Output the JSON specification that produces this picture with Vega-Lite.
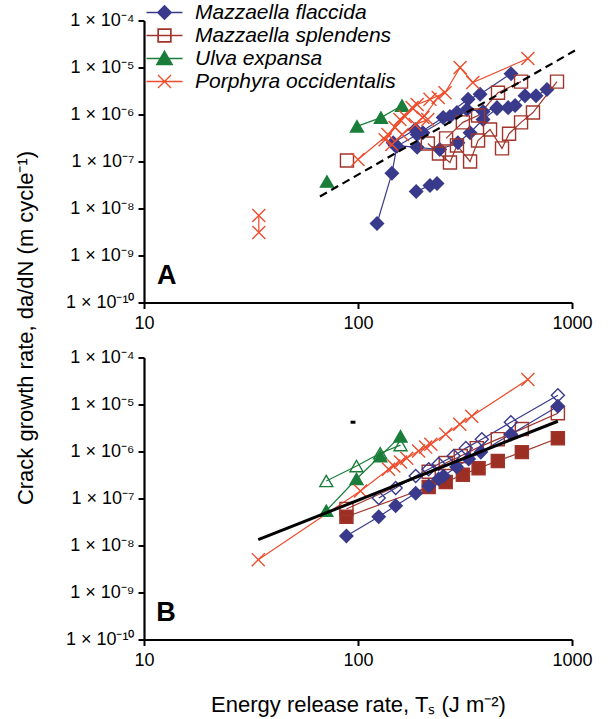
{
  "$schema": "https://vega.github.io/schema/vega-lite/v6.json",
  "background": "white",
  "padding": {"left": 14, "top": 1.5, "right": 5, "bottom": 5},
  "bounds": "flush",
  "spacing": 55,
  "config": {
    "font": "Liberation Sans",
    "view": {"stroke": null},
    "axis": {
      "grid": false,
      "labelFlush": false,
      "domainColor": "black",
      "domainWidth": 2.2,
      "tickColor": "black",
      "tickWidth": 2,
      "tickSize": 6,
      "labelFont": "Liberation Sans",
      "labelFontSize": 18,
      "labelColor": "black",
      "titleFont": "Liberation Sans",
      "titleFontSize": 22,
      "titleFontWeight": "normal",
      "titleColor": "black"
    }
  },
  "datasets": {
    "pts": [
      {"panel": "A", "species": "Mazzaella flaccida", "series": "A-F1", "x": 122.7, "y": 4.8e-9, "open": false},
      {"panel": "A", "species": "Mazzaella flaccida", "series": "A-F1", "x": 144, "y": 5.6e-8, "open": false},
      {"panel": "A", "species": "Mazzaella flaccida", "series": "A-F1", "x": 152, "y": 2.1e-7, "open": false},
      {"panel": "A", "species": "Mazzaella flaccida", "series": "A-F1", "x": 189, "y": 3.75e-7, "open": false},
      {"panel": "A", "species": "Mazzaella flaccida", "series": "A-F1", "x": 250, "y": 8.6e-7, "open": false},
      {"panel": "A", "species": "Mazzaella flaccida", "series": "A-F1", "x": 327, "y": 2.1e-6, "open": false},
      {"panel": "A", "species": "Mazzaella flaccida", "series": "A-F1", "x": 372, "y": 2.7e-6, "open": false},
      {"panel": "A", "species": "Mazzaella flaccida", "series": "A-F1", "x": 519, "y": 7.4e-6, "open": false},
      {"panel": "A", "species": "Mazzaella flaccida", "series": "A-F2", "x": 187, "y": 2.3e-8, "open": false},
      {"panel": "A", "species": "Mazzaella flaccida", "series": "A-F2", "x": 217, "y": 3.1e-8, "open": false},
      {"panel": "A", "species": "Mazzaella flaccida", "series": "A-F2", "x": 234, "y": 3.4e-8, "open": false},
      {"panel": "A", "species": "Mazzaella flaccida", "series": "A-F3", "x": 149, "y": 2.2e-7, "open": false},
      {"panel": "A", "species": "Mazzaella flaccida", "series": "A-F3", "x": 189, "y": 2.0e-7, "open": false},
      {"panel": "A", "species": "Mazzaella flaccida", "series": "A-F3", "x": 241, "y": 1.8e-7, "open": false},
      {"panel": "A", "species": "Mazzaella flaccida", "series": "A-F3", "x": 293, "y": 2.5e-7, "open": false},
      {"panel": "A", "species": "Mazzaella flaccida", "series": "A-F3", "x": 334, "y": 4.1e-7, "open": false},
      {"panel": "A", "species": "Mazzaella flaccida", "series": "A-F3", "x": 384, "y": 7.8e-7, "open": false},
      {"panel": "A", "species": "Mazzaella flaccida", "series": "A-F3", "x": 446, "y": 1.34e-6, "open": false},
      {"panel": "A", "species": "Mazzaella flaccida", "series": "A-F3", "x": 503, "y": 1.4e-6, "open": false},
      {"panel": "A", "species": "Mazzaella flaccida", "series": "A-F3", "x": 542, "y": 1.55e-6, "open": false},
      {"panel": "A", "species": "Mazzaella flaccida", "series": "A-F3", "x": 603, "y": 2.5e-6, "open": false},
      {"panel": "A", "species": "Mazzaella flaccida", "series": "A-F3", "x": 679, "y": 2.5e-6, "open": false},
      {"panel": "A", "species": "Mazzaella flaccida", "series": "A-F3", "x": 764, "y": 3.4e-6, "open": false},
      {"panel": "A", "species": "Mazzaella flaccida", "series": "A-F4", "x": 146, "y": 2.5e-7, "open": false},
      {"panel": "A", "species": "Mazzaella flaccida", "series": "A-F4", "x": 185, "y": 4.8e-7, "open": false},
      {"panel": "A", "species": "Mazzaella flaccida", "series": "A-F4", "x": 201, "y": 4.1e-7, "open": false},
      {"panel": "A", "species": "Mazzaella flaccida", "series": "A-F4", "x": 269, "y": 9.1e-7, "open": false},
      {"panel": "A", "species": "Mazzaella flaccida", "series": "A-F4", "x": 290, "y": 1.1e-6, "open": false},
      {"panel": "A", "species": "Mazzaella flaccida", "series": "A-F4", "x": 323, "y": 1.28e-6, "open": false},
      {"panel": "A", "species": "Mazzaella flaccida", "series": "A-F4", "x": 384, "y": 1.16e-6, "open": false},
      {"panel": "A", "species": "Mazzaella flaccida", "series": "A-F4", "x": 446, "y": 1.4e-6, "open": false},
      {"panel": "A", "species": "Mazzaella splendens", "series": "A-S1", "x": 88.8, "y": 1.05e-7, "open": true},
      {"panel": "A", "species": "Mazzaella splendens", "series": "A-S2", "x": 212, "y": 2.42e-7, "open": true},
      {"panel": "A", "species": "Mazzaella splendens", "series": "A-S2", "x": 239, "y": 1.48e-7, "open": true},
      {"panel": "A", "species": "Mazzaella splendens", "series": "A-S2", "x": 269, "y": 9.5e-8, "open": true},
      {"panel": "A", "species": "Mazzaella splendens", "series": "A-S2", "x": 290, "y": 2.2e-7, "open": true},
      {"panel": "A", "species": "Mazzaella splendens", "series": "A-S2", "x": 334, "y": 1.0e-7, "open": true},
      {"panel": "A", "species": "Mazzaella splendens", "series": "A-S2", "x": 364, "y": 2.8e-7, "open": true},
      {"panel": "A", "species": "Mazzaella splendens", "series": "A-S2", "x": 414, "y": 4.8e-7, "open": true},
      {"panel": "A", "species": "Mazzaella splendens", "series": "A-S2", "x": 471, "y": 1.9e-7, "open": true},
      {"panel": "A", "species": "Mazzaella splendens", "series": "A-S2", "x": 508, "y": 3.9e-7, "open": true},
      {"panel": "A", "species": "Mazzaella splendens", "series": "A-S2", "x": 578, "y": 6.8e-7, "open": true},
      {"panel": "A", "species": "Mazzaella splendens", "series": "A-S2", "x": 657, "y": 1.1e-6, "open": true},
      {"panel": "A", "species": "Mazzaella splendens", "series": "A-S2", "x": 851, "y": 5.0e-6, "open": true},
      {"panel": "A", "species": "Mazzaella splendens", "series": "A-S3", "x": 258, "y": 3.1e-7, "open": true},
      {"panel": "A", "species": "Mazzaella splendens", "series": "A-S3", "x": 309, "y": 6.8e-7, "open": true},
      {"panel": "A", "species": "Mazzaella splendens", "series": "A-S3", "x": 364, "y": 9.5e-7, "open": true},
      {"panel": "A", "species": "Mazzaella splendens", "series": "A-S3", "x": 451, "y": 2.9e-6, "open": true},
      {"panel": "A", "species": "Mazzaella splendens", "series": "A-S3", "x": 578, "y": 5.0e-6, "open": true},
      {"panel": "A", "species": "Ulva expansa", "series": "A-U0", "x": 71.6, "y": 3.75e-8, "open": false},
      {"panel": "A", "species": "Ulva expansa", "series": "A-U1", "x": 98.9, "y": 5.6e-7, "open": false},
      {"panel": "A", "species": "Ulva expansa", "series": "A-U1", "x": 128, "y": 8.6e-7, "open": false},
      {"panel": "A", "species": "Ulva expansa", "series": "A-U1", "x": 160.6, "y": 1.55e-6, "open": false},
      {"panel": "A", "species": "Porphyra occidentalis", "series": "A-P1", "x": 34.4, "y": 7.1e-9, "open": false},
      {"panel": "A", "species": "Porphyra occidentalis", "series": "A-P1", "x": 34.4, "y": 3.1e-9, "open": false},
      {"panel": "A", "species": "Porphyra occidentalis", "series": "A-P2", "x": 100, "y": 1.1e-7, "open": false},
      {"panel": "A", "species": "Porphyra occidentalis", "series": "A-P2", "x": 138, "y": 3.75e-7, "open": false},
      {"panel": "A", "species": "Porphyra occidentalis", "series": "A-P2", "x": 157, "y": 7.8e-7, "open": false},
      {"panel": "A", "species": "Porphyra occidentalis", "series": "A-P2", "x": 189, "y": 1.63e-6, "open": false},
      {"panel": "A", "species": "Porphyra occidentalis", "series": "A-P2", "x": 217, "y": 2.1e-6, "open": false},
      {"panel": "A", "species": "Porphyra occidentalis", "series": "A-P2", "x": 255, "y": 2.9e-6, "open": false},
      {"panel": "A", "species": "Porphyra occidentalis", "series": "A-P2", "x": 300, "y": 1.0e-5, "open": false},
      {"panel": "A", "species": "Porphyra occidentalis", "series": "A-P2", "x": 344, "y": 4.8e-6, "open": false},
      {"panel": "A", "species": "Porphyra occidentalis", "series": "A-P2", "x": 622, "y": 1.55e-5, "open": false},
      {"panel": "A", "species": "Porphyra occidentalis", "series": "A-P3", "x": 134, "y": 2.9e-7, "open": false},
      {"panel": "A", "species": "Porphyra occidentalis", "series": "A-P3", "x": 149, "y": 5.3e-7, "open": false},
      {"panel": "A", "species": "Porphyra occidentalis", "series": "A-P3", "x": 166, "y": 9.1e-7, "open": false},
      {"panel": "A", "species": "Porphyra occidentalis", "series": "A-P3", "x": 179, "y": 1.4e-6, "open": false},
      {"panel": "A", "species": "Porphyra occidentalis", "series": "A-P3", "x": 201, "y": 8.6e-7, "open": false},
      {"panel": "A", "species": "Porphyra occidentalis", "series": "A-P3", "x": 237, "y": 2.3e-6, "open": false},
      {"panel": "A", "species": "Porphyra occidentalis", "series": "A-P4", "x": 144, "y": 2.3e-7, "open": false},
      {"panel": "A", "species": "Porphyra occidentalis", "series": "A-P4", "x": 161, "y": 3.75e-7, "open": false},
      {"panel": "A", "species": "Porphyra occidentalis", "series": "A-P4", "x": 185, "y": 6.1e-7, "open": false},
      {"panel": "A", "species": "Porphyra occidentalis", "series": "A-P4", "x": 212, "y": 7.8e-7, "open": false},

      {"panel": "B", "species": "Ulva expansa", "series": "B-U-open", "x": 71.1, "y": 2.36e-7, "open": true},
      {"panel": "B", "species": "Ulva expansa", "series": "B-U-open", "x": 98.4, "y": 4.9e-7, "open": true},
      {"panel": "B", "species": "Ulva expansa", "series": "B-U-open", "x": 127, "y": 9.2e-7, "open": true},
      {"panel": "B", "species": "Ulva expansa", "series": "B-U-open", "x": 158, "y": 1.37e-6, "open": true},
      {"panel": "B", "species": "Ulva expansa", "series": "B-U-fill", "x": 71.1, "y": 5.5e-8, "open": false},
      {"panel": "B", "species": "Ulva expansa", "series": "B-U-fill", "x": 98.4, "y": 2.6e-7, "open": false},
      {"panel": "B", "species": "Ulva expansa", "series": "B-U-fill", "x": 127, "y": 8.0e-7, "open": false},
      {"panel": "B", "species": "Ulva expansa", "series": "B-U-fill", "x": 158, "y": 2.1e-6, "open": false},
      {"panel": "B", "species": "Mazzaella splendens", "series": "B-S-fill", "x": 88.3, "y": 4.1e-8, "open": false},
      {"panel": "B", "species": "Mazzaella splendens", "series": "B-S-fill", "x": 214, "y": 1.76e-7, "open": false},
      {"panel": "B", "species": "Mazzaella splendens", "series": "B-S-fill", "x": 257, "y": 2.25e-7, "open": false},
      {"panel": "B", "species": "Mazzaella splendens", "series": "B-S-fill", "x": 309, "y": 3.2e-7, "open": false},
      {"panel": "B", "species": "Mazzaella splendens", "series": "B-S-fill", "x": 366, "y": 4.4e-7, "open": false},
      {"panel": "B", "species": "Mazzaella splendens", "series": "B-S-fill", "x": 450, "y": 6.3e-7, "open": false},
      {"panel": "B", "species": "Mazzaella splendens", "series": "B-S-fill", "x": 583, "y": 9.7e-7, "open": false},
      {"panel": "B", "species": "Mazzaella splendens", "series": "B-S-fill", "x": 859, "y": 1.92e-6, "open": false},
      {"panel": "B", "species": "Mazzaella splendens", "series": "B-S-open", "x": 88.3, "y": 6.0e-8, "open": true},
      {"panel": "B", "species": "Mazzaella splendens", "series": "B-S-open", "x": 214, "y": 3.7e-7, "open": true},
      {"panel": "B", "species": "Mazzaella splendens", "series": "B-S-open", "x": 257, "y": 5.7e-7, "open": true},
      {"panel": "B", "species": "Mazzaella splendens", "series": "B-S-open", "x": 302, "y": 8.0e-7, "open": true},
      {"panel": "B", "species": "Mazzaella splendens", "series": "B-S-open", "x": 359, "y": 1.18e-6, "open": true},
      {"panel": "B", "species": "Mazzaella splendens", "series": "B-S-open", "x": 450, "y": 1.83e-6, "open": true},
      {"panel": "B", "species": "Mazzaella splendens", "series": "B-S-open", "x": 583, "y": 3.0e-6, "open": true},
      {"panel": "B", "species": "Mazzaella splendens", "series": "B-S-open", "x": 859, "y": 6.5e-6, "open": true},
      {"panel": "B", "species": "Mazzaella flaccida", "series": "B-F-fill", "x": 88.3, "y": 1.6e-8, "open": false},
      {"panel": "B", "species": "Mazzaella flaccida", "series": "B-F-fill", "x": 125, "y": 4.1e-8, "open": false},
      {"panel": "B", "species": "Mazzaella flaccida", "series": "B-F-fill", "x": 150, "y": 7.0e-8, "open": false},
      {"panel": "B", "species": "Mazzaella flaccida", "series": "B-F-fill", "x": 186, "y": 1.3e-7, "open": false},
      {"panel": "B", "species": "Mazzaella flaccida", "series": "B-F-fill", "x": 214, "y": 1.85e-7, "open": false},
      {"panel": "B", "species": "Mazzaella flaccida", "series": "B-F-fill", "x": 238, "y": 2.6e-7, "open": false},
      {"panel": "B", "species": "Mazzaella flaccida", "series": "B-F-fill", "x": 251, "y": 3.0e-7, "open": false},
      {"panel": "B", "species": "Mazzaella flaccida", "series": "B-F-fill", "x": 289, "y": 4.7e-7, "open": false},
      {"panel": "B", "species": "Mazzaella flaccida", "series": "B-F-fill", "x": 329, "y": 6.9e-7, "open": false},
      {"panel": "B", "species": "Mazzaella flaccida", "series": "B-F-fill", "x": 375, "y": 9.7e-7, "open": false},
      {"panel": "B", "species": "Mazzaella flaccida", "series": "B-F-fill", "x": 518, "y": 2.34e-6, "open": false},
      {"panel": "B", "species": "Mazzaella flaccida", "series": "B-F-fill", "x": 859, "y": 9.2e-6, "open": false},
      {"panel": "B", "species": "Mazzaella flaccida", "series": "B-F-open", "x": 125, "y": 1.03e-7, "open": true},
      {"panel": "B", "species": "Mazzaella flaccida", "series": "B-F-open", "x": 150, "y": 1.68e-7, "open": true},
      {"panel": "B", "species": "Mazzaella flaccida", "series": "B-F-open", "x": 186, "y": 3.0e-7, "open": true},
      {"panel": "B", "species": "Mazzaella flaccida", "series": "B-F-open", "x": 214, "y": 4.2e-7, "open": true},
      {"panel": "B", "species": "Mazzaella flaccida", "series": "B-F-open", "x": 238, "y": 5.4e-7, "open": true},
      {"panel": "B", "species": "Mazzaella flaccida", "series": "B-F-open", "x": 280, "y": 8.0e-7, "open": true},
      {"panel": "B", "species": "Mazzaella flaccida", "series": "B-F-open", "x": 319, "y": 1.18e-6, "open": true},
      {"panel": "B", "species": "Mazzaella flaccida", "series": "B-F-open", "x": 379, "y": 1.83e-6, "open": true},
      {"panel": "B", "species": "Mazzaella flaccida", "series": "B-F-open", "x": 518, "y": 4.2e-6, "open": true},
      {"panel": "B", "species": "Mazzaella flaccida", "series": "B-F-open", "x": 859, "y": 1.57e-5, "open": true},
      {"panel": "B", "species": "Porphyra occidentalis", "series": "B-P", "x": 34.2, "y": 5.0e-9, "open": false},
      {"panel": "B", "species": "Porphyra occidentalis", "series": "B-P", "x": 102.7, "y": 1.45e-7, "open": false},
      {"panel": "B", "species": "Porphyra occidentalis", "series": "B-P", "x": 139, "y": 4.2e-7, "open": false},
      {"panel": "B", "species": "Porphyra occidentalis", "series": "B-P", "x": 147, "y": 4.9e-7, "open": false},
      {"panel": "B", "species": "Porphyra occidentalis", "series": "B-P", "x": 158, "y": 6.0e-7, "open": false},
      {"panel": "B", "species": "Porphyra occidentalis", "series": "B-P", "x": 169, "y": 7.2e-7, "open": false},
      {"panel": "B", "species": "Porphyra occidentalis", "series": "B-P", "x": 192, "y": 1.02e-6, "open": false},
      {"panel": "B", "species": "Porphyra occidentalis", "series": "B-P", "x": 207, "y": 1.24e-6, "open": false},
      {"panel": "B", "species": "Porphyra occidentalis", "series": "B-P", "x": 219, "y": 1.43e-6, "open": false},
      {"panel": "B", "species": "Porphyra occidentalis", "series": "B-P", "x": 257, "y": 2.34e-6, "open": false},
      {"panel": "B", "species": "Porphyra occidentalis", "series": "B-P", "x": 299, "y": 3.8e-6, "open": false},
      {"panel": "B", "species": "Porphyra occidentalis", "series": "B-P", "x": 340, "y": 5.6e-6, "open": false},
      {"panel": "B", "species": "Porphyra occidentalis", "series": "B-P", "x": 622, "y": 3.4e-5, "open": false}
    ],
    "fits": [
      {"panel": "A", "series": "fitA", "x": 66.4, "y": 1.8e-8},
      {"panel": "A", "series": "fitA", "x": 1032, "y": 2.3e-5},
      {"panel": "B", "series": "fitB", "x": 34.2, "y": 1.33e-8},
      {"panel": "B", "series": "fitB", "x": 859, "y": 4.4e-6},
      {"panel": "B", "series": "dash", "x": 92.3, "y": 4.2e-6},
      {"panel": "B", "series": "dash", "x": 97.3, "y": 4.2e-6}
    ],
    "labels": [
      {"panel": "A", "label": "A", "x": 11.5, "y": 2.5e-10},
      {"panel": "B", "label": "B", "x": 11.4, "y": 2.43e-10}
    ]
  },
  "resolve": {
    "scale": {"color": "independent"},
    "legend": {"color": "independent"}
  },
  "vconcat": [
    {
      "width": 428,
      "height": 282,
      "layer": [
        {
          "data": {"name": "pts"},
          "transform": [{"filter": "datum.panel === 'A'"}],
          "mark": {"type": "line", "strokeWidth": 1.2,
            "stroke": {"expr": "datum.species === 'Mazzaella flaccida' ? '#3a3a8c' : datum.species === 'Mazzaella splendens' ? '#a2352b' : datum.species === 'Ulva expansa' ? '#1b7d3a' : '#ee4d2d'"}},
          "encoding": {
            "x": {"field": "x", "type": "quantitative", "scale": {"type": "log", "domain": [10, 1000], "nice": false}, "axis": {"values": [10, 100, 1000], "format": "d", "title": null, "labelPadding": 6}},
            "y": {"field": "y", "type": "quantitative", "scale": {"type": "log", "domain": [1e-10, 1e-4], "nice": false},
              "axis": {"values": [1e-10, 1e-9, 1e-8, 1e-7, 1e-6, 1e-5, 1e-4], "labelPadding": 4,
                "labelExpr": "datum.value < 5e-10 ? '1 × 10⁻¹⁰' : datum.value < 5e-9 ? '1 × 10⁻⁹' : datum.value < 5e-8 ? '1 × 10⁻⁸' : datum.value < 5e-7 ? '1 × 10⁻⁷' : datum.value < 5e-6 ? '1 × 10⁻⁶' : datum.value < 5e-5 ? '1 × 10⁻⁵' : '1 × 10⁻⁴'",
                "title": "Crack growth rate, da/dN (m cycle⁻¹)", "titleX": -119, "titleY": 307, "titleAlign": "center", "titleBaseline": "middle", "titleAngle": -90}},
            "detail": {"field": "series"}
          }
        },
        {
          "data": {"name": "pts"},
          "transform": [{"filter": "datum.panel === 'A'"}],
          "mark": {
            "type": "point", "filled": true, "size": 170, "strokeWidth": 1.4, "opacity": 1,
            "stroke": {"expr": "(datum.species || datum.value) === 'Mazzaella flaccida' ? '#3a3a8c' : (datum.species || datum.value) === 'Mazzaella splendens' ? '#a2352b' : (datum.species || datum.value) === 'Ulva expansa' ? '#1b7d3a' : '#ee4d2d'"},
            "shape": {"expr": "datum.species ? (datum.species === 'Mazzaella flaccida' ? 'diamond' : datum.species === 'Mazzaella splendens' ? 'square' : datum.species === 'Ulva expansa' ? 'triangle-up' : 'M-1,-1L1,1M1,-1L-1,1') : (datum.value === 'Mazzaella flaccida' ? 'M-3.6,0H3.6M0,-1.35L1.35,0L0,1.35L-1.35,0Z' : datum.value === 'Mazzaella splendens' ? 'M-3.6,0H3.6M-1.3,-1.3H1.3V1.3H-1.3ZM-1.24,-1.24V1.24H1.24V-1.24Z' : datum.value === 'Ulva expansa' ? 'M-3.6,0H3.6M0,-1.45L1.55,1.2L-1.55,1.2Z' : 'M-3.6,0H3.6M-1.3,-1.3L1.3,1.3M1.3,-1.3L-1.3,1.3')"},
            "fillOpacity": {"expr": "datum.species ? (datum.open ? 0 : 1) : 1"}
          },
          "encoding": {
            "x": {"field": "x", "type": "quantitative"},
            "y": {"field": "y", "type": "quantitative"},
            "color": {"field": "species", "type": "nominal", "scale": {"domain": ["Mazzaella flaccida", "Mazzaella splendens", "Ulva expansa", "Porphyra occidentalis"], "range": ["#3a3a8c", "#a2352b", "#1b7d3a", "#ee4d2d"]},
              "legend": {
                "orient": "none", "legendX": 10, "legendY": -18.5, "padding": 0, "title": null,
                "labelFont": "Liberation Sans", "labelFontSize": 21, "labelFontStyle": "italic", "labelColor": "black", "labelLimit": 400,
                "symbolSize": 100, "rowPadding": 1, "labelOffset": 20, "symbolStrokeWidth": 1.4, "symbolOpacity": 1
              }}
          }
        },
        {
          "data": {"name": "fits"},
          "transform": [{"filter": "datum.panel === 'A'"}],
          "mark": {"type": "line", "color": "black", "strokeWidth": 2.2, "strokeDash": [8, 5]},
          "encoding": {
            "x": {"field": "x", "type": "quantitative"},
            "y": {"field": "y", "type": "quantitative"},
            "detail": {"field": "series"}
          }
        },
        {
          "data": {"name": "labels"},
          "transform": [{"filter": "datum.panel === 'A'"}],
          "mark": {"type": "text", "fontSize": 27, "fontWeight": "bold", "align": "left", "baseline": "alphabetic", "color": "black", "font": "Liberation Sans"},
          "encoding": {
            "x": {"field": "x", "type": "quantitative"},
            "y": {"field": "y", "type": "quantitative"},
            "text": {"field": "label"}
          }
        }
      ]
    },
    {
      "width": 428,
      "height": 282,
      "layer": [
        {
          "data": {"name": "pts"},
          "transform": [{"filter": "datum.panel === 'B'"}],
          "mark": {"type": "line", "strokeWidth": 1.2,
            "stroke": {"expr": "datum.species === 'Mazzaella flaccida' ? '#3a3a8c' : datum.species === 'Mazzaella splendens' ? '#a2352b' : datum.species === 'Ulva expansa' ? '#1b7d3a' : '#ee4d2d'"}},
          "encoding": {
            "x": {"field": "x", "type": "quantitative", "scale": {"type": "log", "domain": [10, 1000], "nice": false},
              "axis": {"values": [10, 100, 1000], "format": "d", "labelPadding": 6, "title": "Energy release rate, Tₛ (J m⁻²)", "titleBaseline": "alphabetic", "titleY": 72}},
            "y": {"field": "y", "type": "quantitative", "scale": {"type": "log", "domain": [1e-10, 1e-4], "nice": false},
              "axis": {"values": [1e-10, 1e-9, 1e-8, 1e-7, 1e-6, 1e-5, 1e-4], "labelPadding": 4, "title": null,
                "labelExpr": "datum.value < 5e-10 ? '1 × 10⁻¹⁰' : datum.value < 5e-9 ? '1 × 10⁻⁹' : datum.value < 5e-8 ? '1 × 10⁻⁸' : datum.value < 5e-7 ? '1 × 10⁻⁷' : datum.value < 5e-6 ? '1 × 10⁻⁶' : datum.value < 5e-5 ? '1 × 10⁻⁵' : '1 × 10⁻⁴'"}},
            "detail": {"field": "series"}
          }
        },
        {
          "data": {"name": "pts"},
          "transform": [{"filter": "datum.panel === 'B'"}],
          "mark": {
            "type": "point", "filled": true, "size": 170, "strokeWidth": 1.4, "opacity": 1,
            "stroke": {"expr": "datum.species === 'Mazzaella flaccida' ? '#3a3a8c' : datum.species === 'Mazzaella splendens' ? '#a2352b' : datum.species === 'Ulva expansa' ? '#1b7d3a' : '#ee4d2d'"},
            "shape": {"expr": "datum.species === 'Mazzaella flaccida' ? 'diamond' : datum.species === 'Mazzaella splendens' ? 'square' : datum.species === 'Ulva expansa' ? 'triangle-up' : 'M-1,-1L1,1M1,-1L-1,1'"},
            "fillOpacity": {"expr": "datum.open ? 0 : 1"}
          },
          "encoding": {
            "x": {"field": "x", "type": "quantitative"},
            "y": {"field": "y", "type": "quantitative"},
            "color": {"field": "species", "type": "nominal", "scale": {"domain": ["Mazzaella flaccida", "Mazzaella splendens", "Ulva expansa", "Porphyra occidentalis"], "range": ["#3a3a8c", "#9c2f23", "#1b7d3a", "#ee4d2d"]}, "legend": null}
          }
        },
        {
          "data": {"name": "fits"},
          "transform": [{"filter": "datum.panel === 'B'"}],
          "mark": {"type": "line", "color": "black", "strokeWidth": 3},
          "encoding": {
            "x": {"field": "x", "type": "quantitative"},
            "y": {"field": "y", "type": "quantitative"},
            "detail": {"field": "series"},
            "strokeWidth": {"condition": {"test": "datum.series === 'dash'", "value": 2}, "value": 3}
          }
        },
        {
          "data": {"name": "labels"},
          "transform": [{"filter": "datum.panel === 'B'"}],
          "mark": {"type": "text", "fontSize": 27, "fontWeight": "bold", "align": "left", "baseline": "alphabetic", "color": "black", "font": "Liberation Sans"},
          "encoding": {
            "x": {"field": "x", "type": "quantitative"},
            "y": {"field": "y", "type": "quantitative"},
            "text": {"field": "label"}
          }
        }
      ]
    }
  ]
}
